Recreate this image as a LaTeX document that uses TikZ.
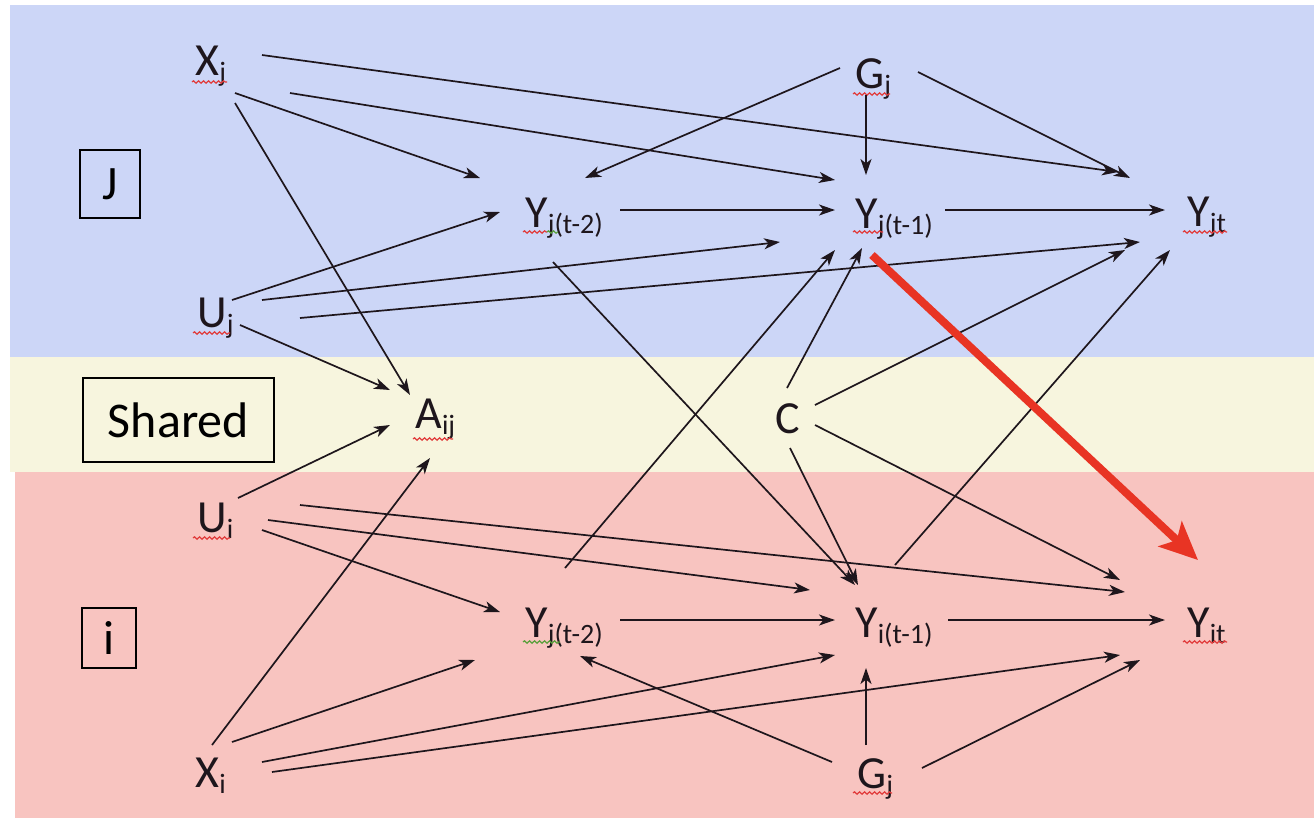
\documentclass[tikz,border=0pt]{standalone}
\usepackage{fontspec}
\setmainfont{Carlito}
\usetikzlibrary{arrows.meta,decorations.pathmorphing}
\definecolor{bandJ}{RGB}{204,214,247}
\definecolor{bandS}{RGB}{247,245,222}
\definecolor{bandI}{RGB}{248,196,192}
\definecolor{ink}{RGB}{30,22,28}
\definecolor{redarrow}{RGB}{232,52,36}
\definecolor{spellred}{RGB}{225,60,60}
\definecolor{spellgreen}{RGB}{90,160,60}
% lowered, smaller subscript
\newcommand\sbs[1]{\raisebox{-3pt}{\fontsize{14pt}{14pt}\selectfont #1}}
\begin{document}
\begin{tikzpicture}[x=0.5pt,y=-0.5pt,
  var/.style={inner sep=0pt, anchor=base west, font=\fontsize{23pt}{23pt}\selectfont, text=ink},
  groupbox/.style={draw=black, line width=0.75pt, fill=none, inner sep=0pt, text=black},
  arr/.style={draw=ink, line width=0.85pt, -{Stealth[length=8pt,width=5.5pt,inset=2.2pt]}},
  bigarr/.style={draw=redarrow, line width=4pt, -{Stealth[length=19pt,width=17pt,inset=4.5pt]}},
  spell/.style={draw=spellred, line width=0.6pt, decorate, decoration={snake, amplitude=0.6pt, segment length=2.5pt}},
  spellg/.style={spell, draw=spellgreen}]

\useasboundingbox (0,0) rectangle (1314,821);
\fill[white] (0,0) rectangle (1314,821);

% bands
\fill[bandJ] (10,5) rectangle (1314,357);
\fill[bandS] (10,357) rectangle (1314,472);
\fill[bandI] (15,472) rectangle (1314,818);

% group labels
\node[groupbox, minimum width=30pt, minimum height=34pt, font=\fontsize{24pt}{24pt}\selectfont] (boxJ) at (110,184) {J};
\node[groupbox, minimum width=95.5pt, minimum height=42pt, font=\fontsize{25pt}{25pt}\selectfont] (boxS) at (178.5,420) {Shared};
\node[groupbox, minimum width=27pt, minimum height=30pt, font=\fontsize{24pt}{24pt}\selectfont] (boxI) at (109,638) {i};

% variables
\node[var] (xj)  at (195,75)   {X\sbs{j}};
\node[var] (gj)  at (855,88)   {G\sbs{j}};
\node[var] (yj2) at (525,227)  {Y\sbs{j(t-2)}};
\node[var] (yj1) at (855,228)  {Y\sbs{j(t-1)}};
\node[var] (yjt) at (1187,226) {Y\sbs{jt}};
\node[var] (uj)  at (197,327)  {U\sbs{j}};
\node[var] (aij) at (415,428)  {A\sbs{ij}};
\node[var] (c)   at (775,433)  {C};
\node[var] (ui)  at (197,532)  {U\sbs{i}};
\node[var] (yi2) at (525,637)  {Y\sbs{j(t-2)}};
\node[var] (yi1) at (855,637)  {Y\sbs{i(t-1)}};
\node[var] (yit) at (1187,637) {Y\sbs{it}};
\node[var] (xi)  at (195,787)  {X\sbs{i}};
\node[var] (gi)  at (857,788)  {G\sbs{j}};

% spell-check underlines
\draw[spell]  ([shift={(-3,7)}]xj.base west) -- ++(35,0);
\draw[spell]  ([shift={(-2,6)}]gj.base west) -- ++(37,0);
\draw[spell]  ([shift={(-2,5)}]yj2.base west) -- ++(24,0);
\draw[spellg] ([shift={(22,5)}]yj2.base west) -- ++(11,0);
\draw[spell]  ([shift={(-2,4)}]yj1.base west) -- ++(30,0);
\draw[spell]  ([shift={(-4,6)}]yjt.base west) -- ++(44,0);
\draw[spell]  ([shift={(-4,6)}]uj.base west) -- ++(37,0);
\draw[spell]  ([shift={(-2,11)}]aij.base west) -- ++(40,0);
\draw[spell]  ([shift={(-4,6)}]ui.base west) -- ++(37,0);
\draw[spellg] ([shift={(-2,5)}]yi2.base west) -- ++(37,0);
\draw[spell]  ([shift={(-4,5)}]yit.base west) -- ++(44,0);
\draw[spell]  ([shift={(-4,5)}]gi.base west) -- ++(39,0);

% J-side connectors
\draw[arr] ([shift={(67,-20)}]xj.base west) -- ([shift={(-69,-54)}]yjt.base west);
\draw[arr] ([shift={(95,18)}]xj.base west)  -- ([shift={(-20,-48)}]yj1.base west);
\draw[arr] ([shift={(40,18)}]xj.base west)  -- ([shift={(-45,-49)}]yj2.base west);
\draw[arr] ([shift={(40,28)}]xj.base west)  -- ([shift={(-5,-33)}]aij.base west);
\draw[arr] ([shift={(-15,-20)}]gj.base west) -- ([shift={(60,-49)}]yj2.base west);
\draw[arr] ([shift={(11,7)}]gj.base west)   -- ([shift={(11,-53)}]yj1.base west);
\draw[arr] ([shift={(63,-16)}]gj.base west) -- ([shift={(-57,-48)}]yjt.base west);
\draw[arr] ([shift={(95,-17)}]yj2.base west) -- ([shift={(-20,-18)}]yj1.base west);
\draw[arr] ([shift={(90,-18)}]yj1.base west) -- ([shift={(-22,-16)}]yjt.base west);
\draw[arr] ([shift={(35,-27)}]uj.base west)  -- ([shift={(-25,-15)}]yj2.base west);
\draw[arr] ([shift={(65,-27)}]uj.base west)  -- ([shift={(-75,14)}]yj1.base west);
\draw[arr] ([shift={(103,-9)}]uj.base west)  -- ([shift={(-47,16)}]yjt.base west);
\draw[arr] ([shift={(43,-2)}]uj.base west)   -- ([shift={(-25,-38)}]aij.base west);

% cross connectors
\draw[arr] ([shift={(28,35)}]yj2.base west) -- ([shift={(0,-52)}]yi1.base west);
\draw[arr] ([shift={(12,-45)}]c.base west)  -- ([shift={(7,20)}]yj1.base west);
\draw[arr] ([shift={(40,-28)}]c.base west)  -- ([shift={(-62,24)}]yjt.base west);
\draw[arr] ([shift={(40,-8)}]c.base west)   -- ([shift={(-67,-57)}]yit.base west);
\draw[arr] ([shift={(15,15)}]c.base west)   -- ([shift={(3,-52)}]yi1.base west);
\draw[arr] ([shift={(40,-69)}]yi2.base west) -- ([shift={(-20,22)}]yj1.base west);
\draw[arr] ([shift={(40,-72)}]yi1.base west) -- ([shift={(-17,24)}]yjt.base west);

% i-side connectors
\draw[arr] ([shift={(41,-34)}]ui.base west)  -- ([shift={(-25,-3)}]aij.base west);
\draw[arr] ([shift={(65,-2)}]ui.base west)   -- ([shift={(-25,-25)}]yi2.base west);
\draw[arr] ([shift={(71,-12)}]ui.base west)  -- ([shift={(-45,-47)}]yi1.base west);
\draw[arr] ([shift={(103,-27)}]ui.base west) -- ([shift={(-62,-45)}]yit.base west);
\draw[arr] ([shift={(17,-42)}]xi.base west)  -- ([shift={(15,30)}]aij.base west);
\draw[arr] ([shift={(37,-45)}]xi.base west)  -- ([shift={(-50,23)}]yi2.base west);
\draw[arr] ([shift={(67,-25)}]xi.base west)  -- ([shift={(-20,18)}]yi1.base west);
\draw[arr] ([shift={(77,-15)}]xi.base west)  -- ([shift={(-67,18)}]yit.base west);
\draw[arr] ([shift={(-25,-26)}]gi.base west) -- ([shift={(55,19)}]yi2.base west);
\draw[arr] ([shift={(9,-43)}]gi.base west)   -- ([shift={(11,31)}]yi1.base west);
\draw[arr] ([shift={(65,-20)}]gi.base west)  -- ([shift={(-47,23)}]yit.base west);
\draw[arr] ([shift={(95,-17)}]yi2.base west) -- ([shift={(-20,-17)}]yi1.base west);
\draw[arr] ([shift={(93,-17)}]yi1.base west) -- ([shift={(-22,-17)}]yit.base west);

% highlighted spill-over effect
\draw[bigarr] ([shift={(17,27)}]yj1.base west) -- ([shift={(11,-77)}]yit.base west);
\end{tikzpicture}
\end{document}
